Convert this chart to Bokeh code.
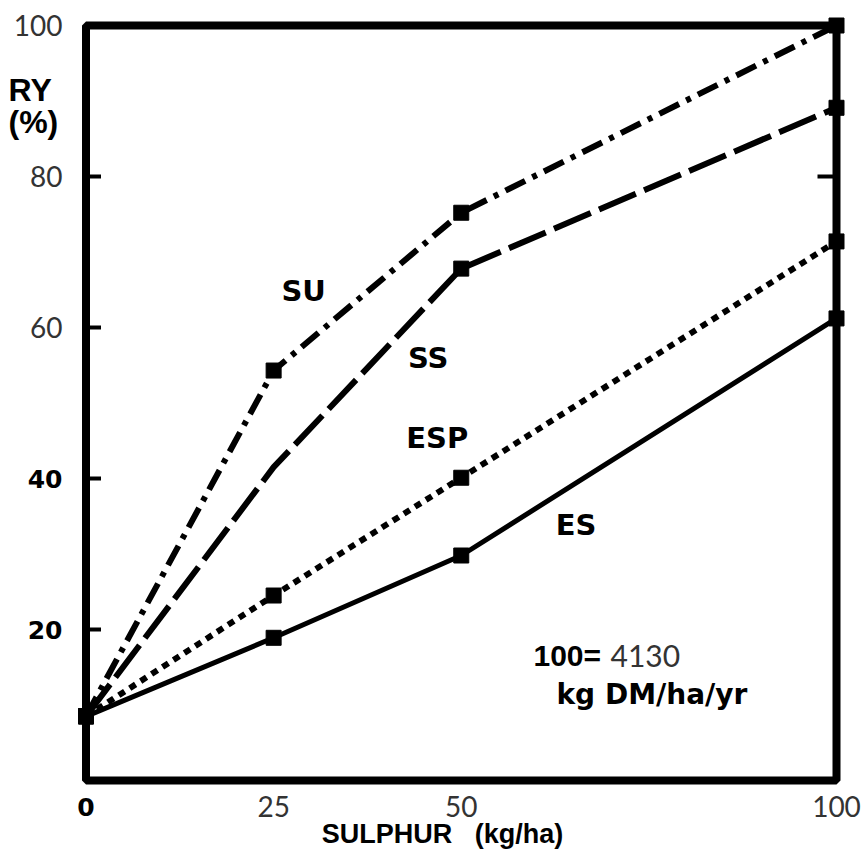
from bokeh.plotting import figure
from bokeh.models import Range1d, BoxAnnotation
from bokeh.core.properties import value
from bokeh.embed import file_html
from bokeh.resources import INLINE

# ---- data ----
sulphur = [0, 25, 50, 100]
es = [8.5, 18.9, 29.8, 61.2]
esp = [8.5, 24.5, 40.1, 71.4]
ss = [8.5, 41.5, 67.8, 89.1]
su = [8.5, 54.3, 75.2, 100.0]
ss_marker_idx = [0, 2, 3]

series_names = ["SU", "SS", "ESP", "ES"]
label_x = [29.0, 45.6, 46.8, 65.3]
label_y = [64.8, 55.9, 45.3, 33.8]

y_ticks = [20, 40, 60, 80, 100]
y_ticks_light = [60, 80, 100]
y_ticks_bold = [20, 40]
x_ticks_light = [25, 50, 100]
x_ticks_bold = [0]
right_ticks = [80]

x_title = "SULPHUR\u00a0\u00a0\u00a0(kg/ha)"
y_title = ["RY", "(%)"]
note_value = "4130"

# ---- geometry (pixels) ----
W, H = 866, 858
FL, FR, FT, FB = 85.5, 836.0, 25.0, 780.0
XMIN, XMAX, YMIN, YMAX = 0, 100, 0, 100
sx = (FR - FL) / (XMAX - XMIN)
sy = (FB - FT) / (YMAX - YMIN)

def dx(px):  # pixel column -> data x
    return XMIN + (px - FL) / sx

def dy(py):  # pixel row -> data y
    return YMIN + (FB - py) / sy

BOLD = value("DejaVu Sans")
HELV = value("Liberation Sans")
LIGHT = value("Lato")

p = figure(width=W, height=H, x_range=Range1d(dx(0), dx(W)), y_range=Range1d(dy(H), dy(0)),
           output_backend="svg", toolbar_location=None, min_border=0,
           x_axis_type=None, y_axis_type=None)
p.grid.visible = False
p.outline_line_color = None
p.background_fill_color = "white"
p.border_fill_color = "white"

# frame box at the axis limits
p.add_layout(BoxAnnotation(left=XMIN, right=XMAX, bottom=YMIN, top=YMAX, fill_alpha=0,
                           line_color="black", line_alpha=1.0, line_width=8, level="overlay"))

# inward ticks
n = len(y_ticks) - 1
p.segment(x0=[XMIN] * n, y0=y_ticks[:-1], x1=[XMIN + 15 / sx] * n, y1=y_ticks[:-1],
          line_color="black", line_width=4)
p.segment(x0=[XMAX] * len(right_ticks), y0=right_ticks, x1=[XMAX - 19 / sx] * len(right_ticks),
          y1=right_ticks, line_color="black", line_width=4)

# ---- lines ----
p.line(sulphur, su, line_color="black", line_width=6, line_dash="22 8 5 8")
p.line(sulphur, ss, line_color="black", line_width=6, line_dash="40 9")
p.line(sulphur, esp, line_color="black", line_width=6, line_dash="7 6")
p.line(sulphur, es, line_color="black", line_width=5)

# ---- markers ----
p.scatter(sulphur, su, marker="square", size=15, color="black")
p.scatter([sulphur[i] for i in ss_marker_idx], [ss[i] for i in ss_marker_idx],
          marker="square", size=15, color="black")
p.scatter(sulphur, esp, marker="square", size=15, color="black")
p.scatter(sulphur, es, marker="square", size=15, color="black")

# ---- series labels ----
p.text(x=label_x, y=label_y, text=series_names, text_font=BOLD, text_font_style="bold",
       text_font_size="29px", text_align="center", text_baseline="middle", text_color="black")

# ---- tick labels ----
p.text(x=[dx(62)] * len(y_ticks_light), y=y_ticks_light, text=[str(t) for t in y_ticks_light],
       text_font=LIGHT, text_font_size="28px", text_align="right", text_baseline="middle",
       text_color="#333333")
p.text(x=[dx(62)] * len(y_ticks_bold), y=y_ticks_bold, text=[str(t) for t in y_ticks_bold],
       text_font=BOLD, text_font_style="bold", text_font_size="25px", text_align="right",
       text_baseline="middle", text_color="black")
p.text(x=x_ticks_light, y=[dy(806)] * len(x_ticks_light), text=[str(t) for t in x_ticks_light],
       text_font=LIGHT, text_font_size="28px", text_align="center", text_baseline="middle",
       text_color="#333333")
p.text(x=x_ticks_bold, y=[dy(806)] * len(x_ticks_bold), text=[str(t) for t in x_ticks_bold],
       text_font=BOLD, text_font_style="bold", text_font_size="25px", text_align="center",
       text_baseline="middle", text_color="black")

# ---- axis titles ----
p.text(x=[dx(8), dx(8)], y=[dy(89), dy(121)], text=y_title, text_font=HELV,
       text_font_style="bold", text_font_size="32px", text_align="left",
       text_baseline="middle", text_color="black")
p.text(x=[dx(442)], y=[dy(833)], text=[x_title], text_font=HELV, text_font_style="bold",
       text_font_size="27px", text_align="center", text_baseline="middle", text_color="black")

# ---- note ----
p.text(x=[dx(533)], y=[dy(655)], text=["100="], text_font=HELV, text_font_style="bold",
       text_font_size="30px", text_align="left", text_baseline="middle", text_color="black")
p.text(x=[dx(610)], y=[dy(655)], text=[note_value], text_font=LIGHT,
       text_font_size="30px", text_align="left", text_baseline="middle", text_color="#333333")
p.text(x=[dx(556)], y=[dy(694)], text=["kg DM/ha/yr"], text_font=BOLD, text_font_style="bold",
       text_font_size="28px", text_align="left", text_baseline="middle", text_color="black")

open("out.html", "w").write(file_html(p, INLINE))
